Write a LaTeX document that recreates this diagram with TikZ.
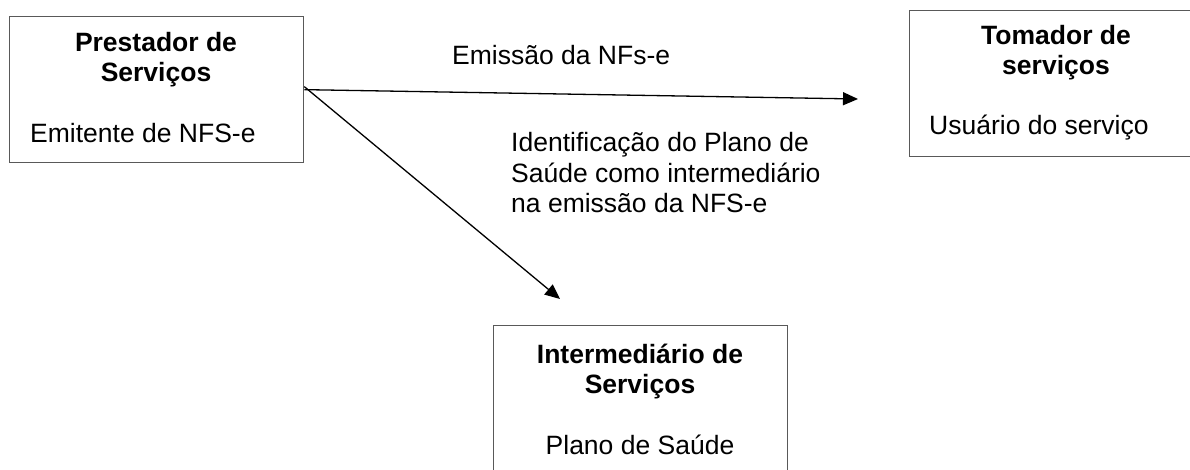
\documentclass[tikz,border=0pt]{standalone}
\usepackage{fontspec}
\setmainfont{Liberation Sans}
\usetikzlibrary{arrows.meta}
\begin{document}
\begin{tikzpicture}[x=1pt,y=-1pt,
  box/.style={draw=black!65,line width=1.3pt,minimum width=#1,inner sep=0pt,anchor=north west},
  title/.style={font=\fontsize{26.5}{30}\selectfont\bfseries,align=center,anchor=base,inner sep=0pt},
  plain/.style={font=\fontsize{26.5}{30.5}\selectfont,align=left,inner sep=0pt},
  conn/.style={line width=1.3pt,-{Triangle[length=15pt,width=13pt]}}]
\useasboundingbox (0,0) rectangle (1190,470);
\node[box=294pt,minimum height=146pt] (prest) at (9,16) {};
\node[box=290pt,minimum height=146pt] (tom) at (909,10) {};
\node[box=294pt,minimum height=160pt] (inter) at (493,325) {};
\node[title] (prestT) at (156,82) {Prestador de\\Serviços};
\node[plain,anchor=base west] (prestS) at (30,143) {Emitente de NFS-e};
\node[title] (tomT) at (1056,75) {Tomador de\\serviços};
\node[plain,anchor=base west] (tomS) at (929,135) {Usuário do serviço};
\node[title] (interT) at (640,393) {Intermediário de\\Serviços};
\node[plain,anchor=base] (interS) at (640,454) {Plano de Saúde};
\node[plain,anchor=base west] (lab1) at (452,65) {Emissão da NFs-e};
\node[plain,anchor=base west] (lab2) at (511,213) {Identificação do Plano de\\Saúde como intermediário\\na emissão da NFS-e};
\coordinate (e1) at (858,99);
\coordinate (e2) at (560,299);
\draw[conn] (prest.east) -- (e1);
\draw[conn] ([yshift=3pt]prest.east) -- (e2);
\end{tikzpicture}
\end{document}
